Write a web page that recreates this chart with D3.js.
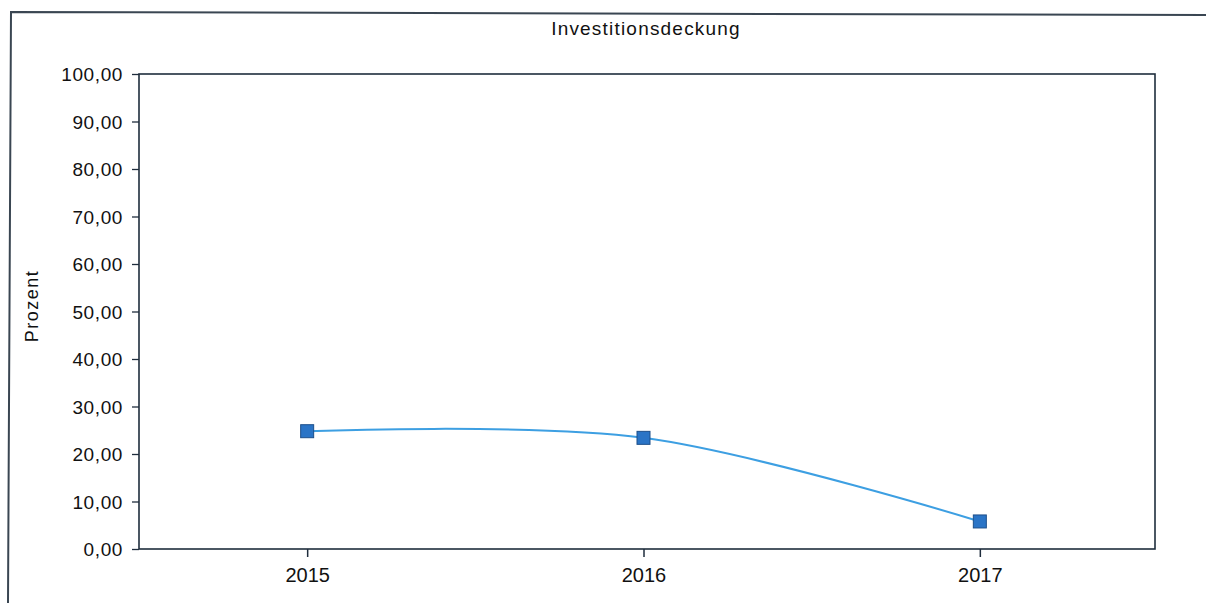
<!DOCTYPE html>
<html><head><meta charset="utf-8">
<script src="https://cdn.jsdelivr.net/npm/d3@7"></script>
<style>html,body{margin:0;padding:0;background:#fff;}svg{display:block;font-family:"Liberation Sans",Arial,sans-serif;}</style>
</head><body>
<script>
const title = "Investitionsdeckung";
const yTitle = "Prozent";
const categories = ["2015", "2016", "2017"];
const values = [24.8, 23.4, 5.8];
const yTicks = [0,10,20,30,40,50,60,70,80,90,100];

const W = 1206, H = 603;
const m = {left: 139, right: 1155, top: 74, bottom: 549};
const svg = d3.select("body").append("svg").attr("width", W).attr("height", H);

// outer frame (scanned)
svg.append("path").attr("d", "M8,603 L11,12 L1206,15").attr("fill","none").attr("stroke","#3a4652").attr("stroke-width",2);

const x = d3.scalePoint().domain(categories).range([m.left, m.right - 7]).padding(0.5);
const y = d3.scaleLinear().domain([0,100]).range([m.bottom, m.top]);
const fmt = d => d3.format(".2f")(d).replace(".", ",");

svg.append("rect").attr("x", m.left).attr("y", m.top).attr("width", m.right-m.left).attr("height", m.bottom-m.top)
  .attr("fill","none").attr("stroke","#1f2d3d").attr("stroke-width",1.6);

const ya = svg.append("g").attr("transform",`translate(${m.left},0)`)
  .call(d3.axisLeft(y).tickValues(yTicks).tickFormat(fmt).tickSize(7).tickPadding(9));
ya.select(".domain").remove();
ya.selectAll("line").attr("stroke","#1f2d3d").attr("stroke-width",1.3);
ya.selectAll("text").attr("font-size",19).attr("letter-spacing",0.6).attr("fill","#111").attr("dy","0.36em");

const xa = svg.append("g").attr("transform",`translate(0,${m.bottom})`)
  .call(d3.axisBottom(x).tickSize(8).tickPadding(11));
xa.select(".domain").remove();
xa.selectAll("line").attr("stroke","#1f2d3d").attr("stroke-width",1.5);
xa.selectAll("text").attr("font-size",20).attr("fill","#111");

svg.append("text").attr("x", 646).attr("y", 35).attr("text-anchor","middle").attr("font-size",19).attr("letter-spacing",1.2).attr("fill","#111").text(title);
svg.append("text").attr("transform","translate(38,306) rotate(-90)").attr("text-anchor","middle").attr("font-size",18).attr("letter-spacing",1.5).attr("fill","#111").text(yTitle);

const data = categories.map((c,i)=>({c, v: values[i]}));
const line = d3.line().x(d=>x(d.c)).y(d=>y(d.v)).curve(d3.curveCardinal.tension(0));
svg.append("path").datum(data).attr("d", line).attr("fill","none").attr("stroke","#3d9fe2").attr("stroke-width",2);

svg.selectAll("rect.pt").data(data).enter().append("rect").attr("class","pt")
  .attr("x", d=>x(d.c)-6.5).attr("y", d=>y(d.v)-6.5).attr("width",13).attr("height",13)
  .attr("fill","#2a74c6").attr("stroke","#1d4f8a").attr("stroke-width",1);
</script>
</body></html>
